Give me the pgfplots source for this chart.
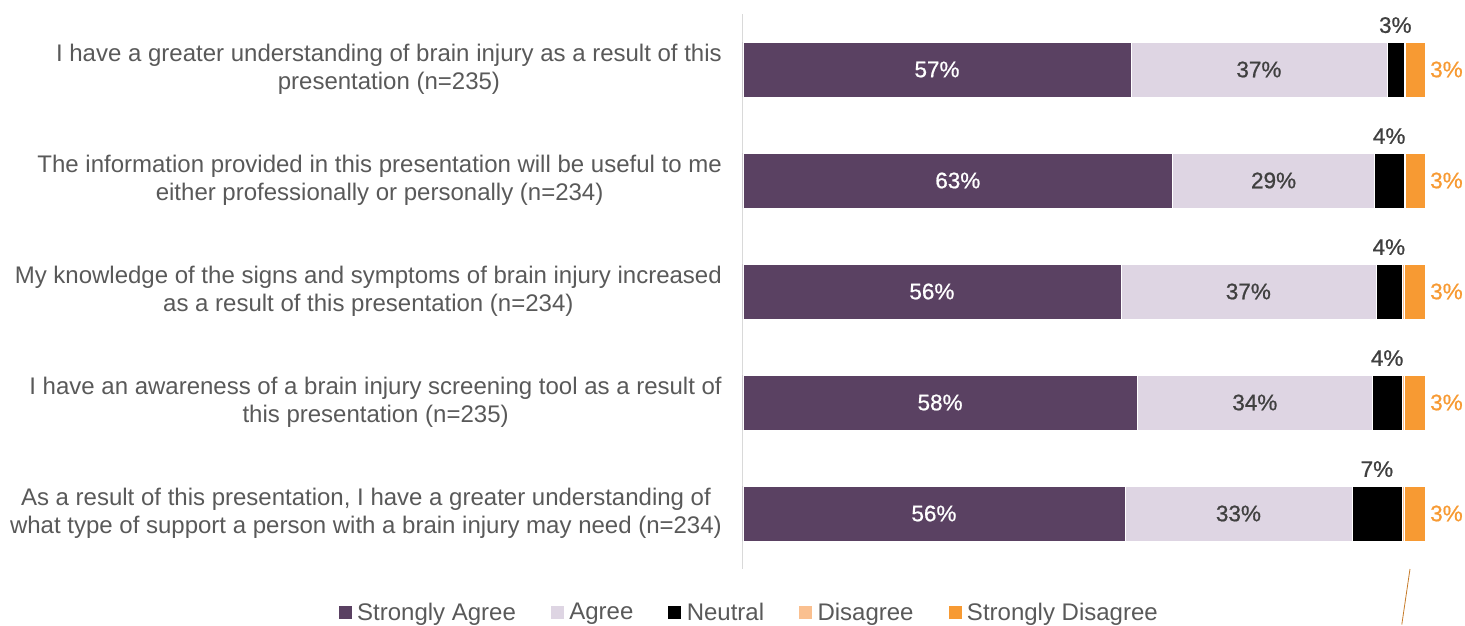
\documentclass[border=0pt]{standalone}
\usepackage{pgfplots}
\pgfplotsset{compat=1.18}
\usepackage{pgfplotstable}
\usepackage{fontspec}
\setmainfont{Liberation Sans}
\newfontfamily\labfont{Liberation Sans}[FakeBold=0.8]
\definecolor{sagree}{HTML}{5A4162}
\definecolor{agree}{HTML}{DED5E3}
\definecolor{disagree}{HTML}{FAC090}
\definecolor{sdis}{HTML}{F79A33}
\definecolor{txtgray}{HTML}{595959}
\definecolor{lblgray}{HTML}{404040}
\definecolor{axgray}{HTML}{D9D9D9}

\pgfplotstableread{
y   sa    a     n    d    sd
1   56.9  37.5  2.5  0.2  2.9
2   63.0  29.6  4.3  0.2  2.9
3   55.4  37.4  3.8  0.4  3.0
4   57.8  34.5  4.3  0.4  3.0
5   56.0  33.3  7.3  0.4  3.0
}\datatable

\tikzset{lab/.style={font=\labfont\fontsize{22.5}{24}\selectfont, inner sep=0pt}}

\begin{document}
\begin{tikzpicture}
\path[use as bounding box] (0,0) rectangle (1465pt,626pt);
\begin{axis}[
  at={(743pt,57pt)}, anchor=south west,
  scale only axis, width=682pt, height=555pt,
  xbar stacked, bar width=55pt,
  xmin=0, xmax=100, ymin=0.5, ymax=5.5, y dir=reverse,
  axis x line=none, axis y line*=left,
  y axis line style={draw=axgray, line width=1pt},
  ytick={1,2,3,4,5}, ytick style={draw=none},
  yticklabels={
    {I have a greater understanding of brain injury as a result of this\\presentation (n=235)},
    {The information provided in this presentation will be useful to me\\either professionally or personally (n=234)},
    {My knowledge of the signs and symptoms of brain injury increased\\as a result of this presentation (n=234)},
    {I have an awareness of a brain injury screening tool as a result of\\this presentation (n=235)},
    {As a result of this presentation, I have a greater understanding of\\what type of support a person with a brain injury may need (n=234)}},
  yticklabel style={align=center, font=\fontsize{24}{28}\selectfont, text=txtgray, inner sep=0pt, xshift=-21pt},
  clip=false,
  legend columns=5,
  legend style={at={(0.007,-0.078)}, anchor=center, draw=none, fill=none,
    font=\fontsize{24}{26}\selectfont, text=txtgray,
    /tikz/every odd column/.append style={column sep=5pt},
    /tikz/every even column/.append style={column sep=34pt},
    nodes={inner xsep=0pt}},
  legend image code/.code={\fill[#1] (0pt,-7pt) rectangle (14pt,7pt);},
  legend cell align=left,
  after end axis/.code={
    % Strongly Agree labels
    \node[lab, text=white] at (axis cs:28.45,1) {57\%};
    \node[lab, text=white] at (axis cs:31.5,2) {63\%};
    \node[lab, text=white] at (axis cs:27.7,3) {56\%};
    \node[lab, text=white] at (axis cs:28.9,4) {58\%};
    \node[lab, text=white] at (axis cs:28.0,5) {56\%};
    % Agree labels
    \node[lab, text=lblgray] at (axis cs:75.65,1) {37\%};
    \node[lab, text=lblgray] at (axis cs:77.8,2) {29\%};
    \node[lab, text=lblgray] at (axis cs:74.1,3) {37\%};
    \node[lab, text=lblgray] at (axis cs:75.05,4) {34\%};
    \node[lab, text=lblgray] at (axis cs:72.65,5) {33\%};
  },
]
\addplot[fill=sagree, draw=white, line width=0.4pt] table[x=sa, y=y] {\datatable};
\addplot[fill=agree, draw=white, line width=0.4pt] table[x=a, y=y] {\datatable};
\addplot[fill=black, draw=white, line width=0.4pt] table[x=n, y=y] {\datatable};
\addplot[fill=disagree, draw=white, line width=0.4pt] table[x=d, y=y] {\datatable};
\addplot[fill=sdis, draw=white, line width=0.4pt] table[x=sd, y=y] {\datatable};
\legend{Strongly Agree, Agree, Neutral, Disagree, Strongly Disagree}

% Neutral labels
\node[lab, text=lblgray] at (axis cs:95.65,0.60) {3\%};
\node[lab, text=lblgray] at (axis cs:94.75,1.60) {4\%};
\node[lab, text=lblgray] at (axis cs:94.7,2.60) {4\%};
\node[lab, text=lblgray] at (axis cs:94.45,3.60) {4\%};
\node[lab, text=lblgray] at (axis cs:92.95,4.60) {7\%};
% Strongly Disagree labels
\node[lab, text=sdis, anchor=west, xshift=5pt] at (axis cs:100,1) {3\%};
\node[lab, text=sdis, anchor=west, xshift=5pt] at (axis cs:100,2) {3\%};
\node[lab, text=sdis, anchor=west, xshift=5pt] at (axis cs:100,3) {3\%};
\node[lab, text=sdis, anchor=west, xshift=5pt] at (axis cs:100,4) {3\%};
\node[lab, text=sdis, anchor=west, xshift=5pt] at (axis cs:100,5) {3\%};
\draw[color=sdis!80!black, line width=0.8pt] (axis cs:97.8,5.5) -- (axis cs:96.6,6.0);
\end{axis}
\end{tikzpicture}
\end{document}
